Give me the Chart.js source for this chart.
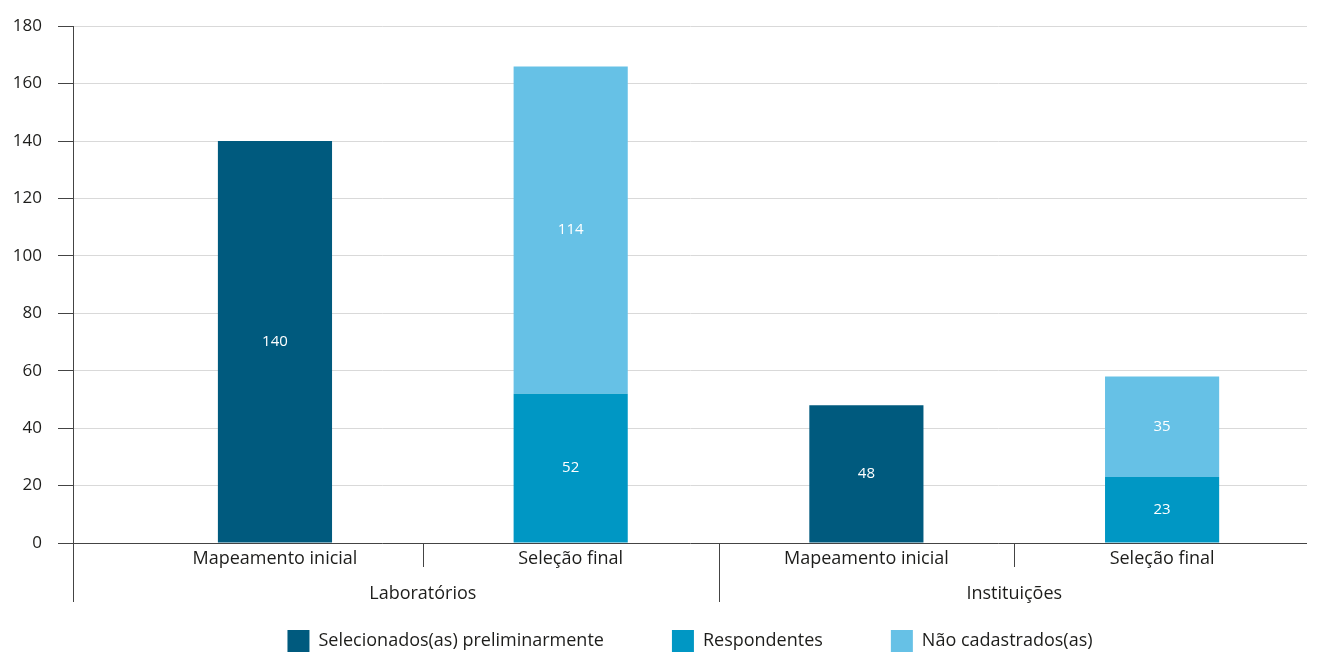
<!DOCTYPE html>
<html>
<head>
<meta charset="utf-8">
<script src="https://cdn.jsdelivr.net/npm/chart.js@4.4.1/dist/chart.umd.min.js"></script>
<style>
  html, body { margin: 0; padding: 0; background: #fff; }
  #wrap { width: 1322px; height: 652px; }
</style>
</head>
<body>
<div id="wrap"><canvas id="chart"></canvas></div>
<script>
const categories = ['Mapeamento inicial', 'Seleção final', 'Mapeamento inicial', 'Seleção final'];
const groups = ['Laboratórios', 'Instituições'];
const selecionados = [140, null, 48, null];
const respondentes = [null, 52, null, 23];
const naoCadastrados = [null, 114, null, 35];

const FONT = '"Open Sans", sans-serif';
const TEXT = '#1d1d1b';
const AXIS = '#444';

function points(values) {
    return values.map(function (v, i) { return { x: i, y: v }; });
}

const extras = {
    id: 'extras',
    afterDatasetsDraw(chart) {
        const ctx = chart.ctx;
        ctx.save();
        ctx.font = '15px ' + FONT;
        ctx.fillStyle = '#fff';
        ctx.textAlign = 'center';
        ctx.textBaseline = 'middle';
        chart.data.datasets.forEach(function (ds, i) {
            chart.getDatasetMeta(i).data.forEach(function (bar, j) {
                const v = ds.data[j].y;
                if (v == null) return;
                ctx.fillText(v, bar.x, (bar.y + bar.base) / 2);
            });
        });
        ctx.restore();
    },
    afterDraw(chart) {
        const x = chart.scales.x, a = chart.chartArea, ctx = chart.ctx;
        ctx.save();
        ctx.strokeStyle = AXIS;
        ctx.lineWidth = 1;
        ctx.beginPath();
        // y axis continues down past the category rows
        ctx.moveTo(a.left + 0.5, a.bottom);
        ctx.lineTo(a.left + 0.5, a.bottom + 59);
        for (let i = 1; i < categories.length; i++) {
            const px = Math.round(x.getPixelForValue(i - 0.5)) + 0.5;
            const len = i % 2 === 0 ? 59 : 24;
            ctx.moveTo(px, a.bottom);
            ctx.lineTo(px, a.bottom + len);
        }
        ctx.stroke();

        ctx.font = '18px ' + FONT;
        ctx.fillStyle = TEXT;
        ctx.textAlign = 'center';
        ctx.textBaseline = 'middle';
        categories.forEach(function (c, i) {
            ctx.fillText(c, x.getPixelForValue(i), a.bottom + 16);
        });
        groups.forEach(function (g, i) {
            ctx.fillText(g, x.getPixelForValue(i * 2 + 0.5), a.bottom + 51);
        });
        ctx.restore();
    }
};

new Chart(document.getElementById('chart'), {
    type: 'bar',
    data: {
        datasets: [
            {
                label: 'Selecionados(as) preliminarmente',
                data: points(selecionados),
                backgroundColor: '#005a7e'
            },
            {
                label: 'Respondentes',
                data: points(respondentes),
                backgroundColor: '#0097c4'
            },
            {
                label: 'Não cadastrados(as)',
                data: points(naoCadastrados),
                backgroundColor: '#66c1e6'
            }
        ]
    },
    options: {
        responsive: true,
        maintainAspectRatio: false,
        animation: false,
        barPercentage: 0.386,
        categoryPercentage: 1,
        layout: {
            padding: { left: 0, right: 15, top: 25, bottom: -10 }
        },
        plugins: {
            tooltip: { enabled: false },
            legend: {
                position: 'bottom',
                fullSize: false,
                labels: {
                    boxWidth: 22,
                    boxHeight: 22,
                    padding: 68,
                    color: TEXT,
                    font: { family: FONT, size: 18 }
                }
            }
        },
        scales: {
            x: {
                type: 'linear',
                stacked: true,
                offset: false,
                min: -0.683,
                max: 3.49,
                grid: { display: false, drawTicks: false },
                border: { display: false },
                afterBuildTicks: function (axis) {
                    axis.ticks = categories.map(function (c, i) { return { value: i }; });
                },
                afterFit: function (axis) { axis.height = 19; },
                ticks: { display: false }
            },
            y: {
                stacked: true,
                min: 0,
                max: 180,
                afterFit: function (axis) { axis.width = 73; },
                grid: {
                    color: function (c) { return c.tick && c.tick.value === 0 ? AXIS : '#d9d9d9'; },
                    tickColor: AXIS,
                    tickLength: 15,
                    lineWidth: 1
                },
                border: { display: true, color: AXIS },
                ticks: {
                    stepSize: 20,
                    padding: 16,
                    color: TEXT,
                    font: { family: FONT, size: 17 }
                }
            }
        }
    },
    plugins: [extras]
});
</script>
</body>
</html>
